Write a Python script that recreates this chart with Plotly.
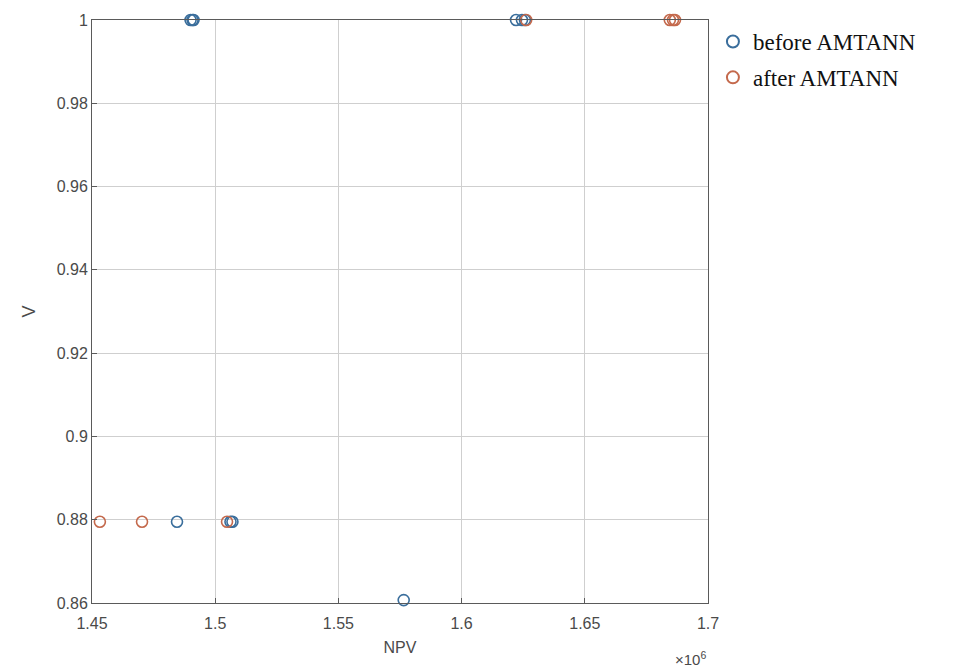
import plotly.graph_objects as go

before_x = [1.4900e6, 1.4908e6, 1.4912e6, 1.6221e6, 1.6245e6, 1.6257e6,
            1.4845e6, 1.5062e6, 1.5070e6, 1.5765e6]
before_y = [1.0, 1.0, 1.0, 1.0, 1.0, 1.0,
            0.8795, 0.8795, 0.8795, 0.8607]
after_x = [1.6262e6, 1.6845e6, 1.6858e6, 1.6866e6,
           1.4532e6, 1.4703e6, 1.5048e6]
after_y = [1.0, 1.0, 1.0, 1.0,
           0.8795, 0.8795, 0.8795]

x_ticks = [1.45, 1.5, 1.55, 1.6, 1.65, 1.7]
y_ticks = [0.86, 0.88, 0.9, 0.92, 0.94, 0.96, 0.98, 1]

blue = "#3a6e9c"
red = "#c4694c"

fig = go.Figure()
fig.add_trace(go.Scatter(x=before_x, y=before_y, mode="markers", name="before AMTANN",
                         legendgroup="b",
                         marker=dict(symbol="circle-open", size=11, color=blue, line=dict(width=1.6)),
                         cliponaxis=False))
fig.add_trace(go.Scatter(x=after_x, y=after_y, mode="markers", name="after AMTANN",
                         legendgroup="a",
                         marker=dict(symbol="circle-open", size=11, color=red, line=dict(width=1.6)),
                         cliponaxis=False))

axis_font = dict(family="Liberation Sans, Arial", size=16, color="#4a4a4a")
fig.update_layout(
    width=975, height=669,
    margin=dict(l=92, r=267, t=20, b=66),
    paper_bgcolor="white", plot_bgcolor="white",
    showlegend=True,
    legend=dict(x=1.008, y=1.0, xanchor="left", yanchor="top",
                font=dict(family="Liberation Serif, DejaVu Serif", size=23, color="#111111"),
                itemsizing="constant", tracegroupgap=3, bgcolor="rgba(0,0,0,0)"),
    xaxis=dict(range=[1.45e6, 1.7e6], tickvals=[v * 1e6 for v in x_ticks],
               ticktext=[f"{v:g}" for v in x_ticks], tickfont=axis_font,
               showgrid=True, gridcolor="#cfcfcf", gridwidth=1,
               showline=True, linecolor="#5a5a5a", linewidth=1, mirror=True,
               ticks="inside", ticklen=5, tickcolor="#5a5a5a",
               ticklabelstandoff=6,
               zeroline=False,
               title=dict(text="NPV", font=axis_font, standoff=10)),
    yaxis=dict(range=[0.86, 1.0], tickvals=y_ticks,
               ticktext=[f"{v:g}" for v in y_ticks], tickfont=axis_font,
               showgrid=True, gridcolor="#cfcfcf", gridwidth=1,
               showline=True, linecolor="#5a5a5a", linewidth=1, mirror=True,
               ticks="inside", ticklen=5, tickcolor="#5a5a5a",
               zeroline=False,
               title=dict(text="V", font=dict(family="Liberation Sans, Arial", size=18, color="#4a4a4a"), standoff=16)),
    annotations=[dict(text="×10<sup>6</sup>", x=1.0, y=-0.075, xref="paper", yref="paper",
                      xanchor="right", yanchor="top", showarrow=False,
                      font=dict(family="Liberation Sans, Arial", size=15, color="#4a4a4a"))],
)

fig.write_html("out.html")
